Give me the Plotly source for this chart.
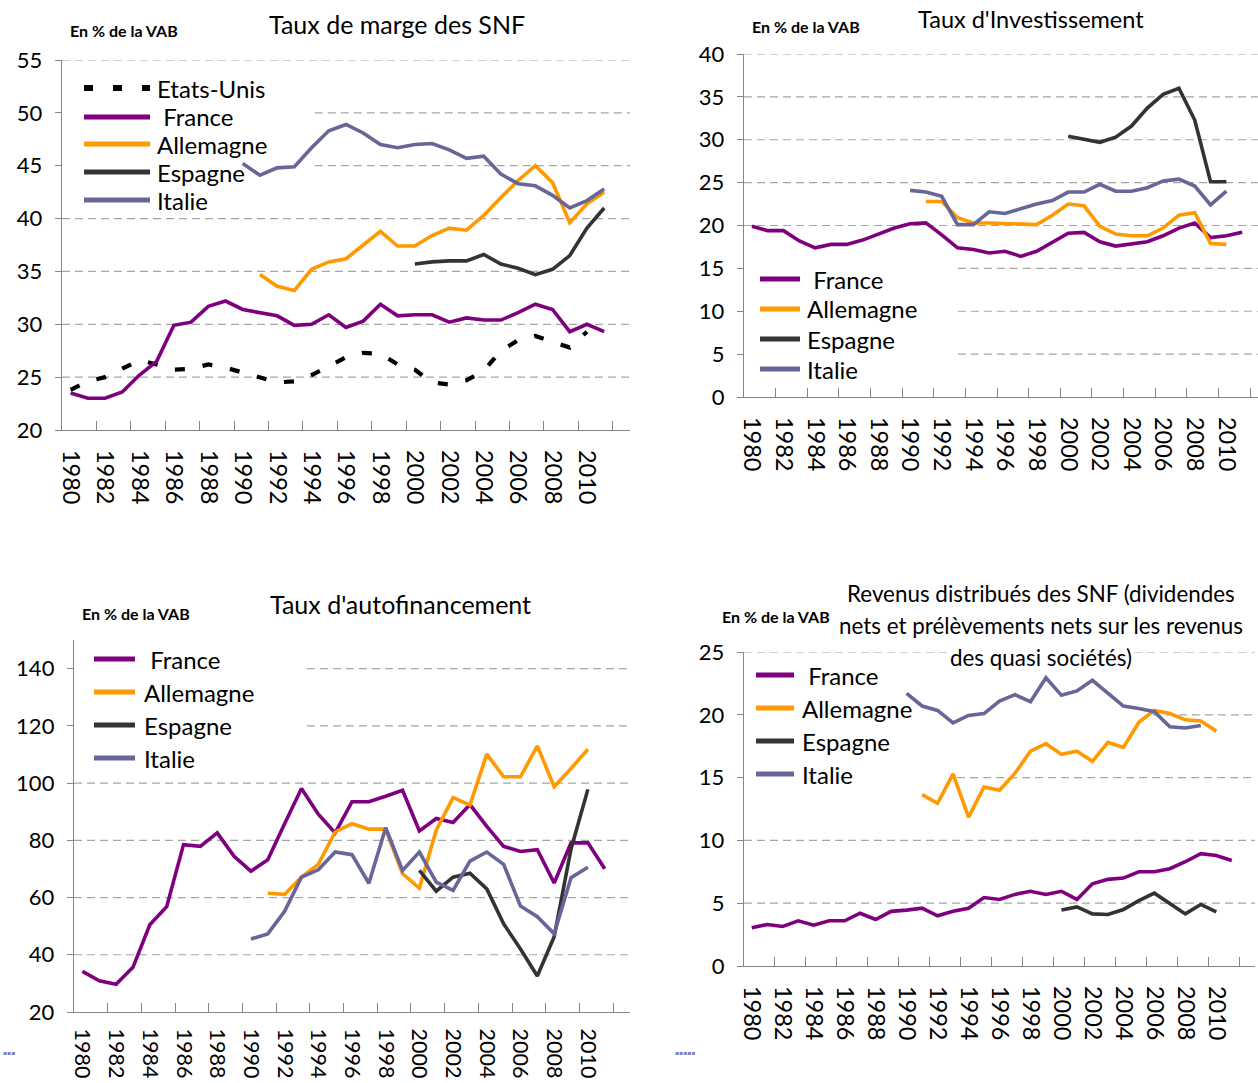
import plotly.graph_objects as go

W, H = 1258, 1083
FONT = "Lato"

# ---------------- data ----------------
# Panel 1 : Taux de marge des SNF
marge_us_years = list(range(1980, 2011))
marge_us = [23.8, 24.6, 25.0, 25.8, 26.6, 26.2, 25.7, 25.8, 26.2, 25.9, 25.4, 25.0, 24.5, 24.6,
            25.2, 26.0, 26.9, 27.3, 27.2, 26.2, 25.7, 24.5, 24.3, 24.7, 25.6, 27.5, 28.5, 28.9,
            28.3, 27.8, 29.3]
marge_fr_years = list(range(1980, 2012))
marge_fr = [23.5, 23.0, 23.0, 23.6, 25.2, 26.5, 29.9, 30.2, 31.7, 32.2, 31.4, 31.1, 30.8, 29.9,
            30.0, 30.9, 29.7, 30.3, 31.9, 30.8, 30.9, 30.9, 30.2, 30.6, 30.4, 30.4, 31.1, 31.9,
            31.4, 29.3, 30.0, 29.3]
marge_de_years = list(range(1991, 2012))
marge_de = [34.7, 33.6, 33.2, 35.2, 35.9, 36.2, 37.5, 38.8, 37.4, 37.4, 38.4, 39.1, 38.9, 40.3,
            42.0, 43.6, 45.0, 43.4, 39.6, 41.4, 42.5]
marge_es_years = list(range(2000, 2012))
marge_es = [35.7, 35.9, 36.0, 36.0, 36.6, 35.7, 35.3, 34.7, 35.2, 36.5, 39.1, 41.0]
marge_it_years = list(range(1990, 2012))
marge_it = [45.2, 44.1, 44.8, 44.9, 46.7, 48.3, 48.9, 48.1, 47.0, 46.7, 47.0, 47.1, 46.5, 45.7,
            45.9, 44.2, 43.3, 43.1, 42.2, 41.0, 41.7, 42.8]

# Panel 2 : Taux d'investissement
inv_fr_years = list(range(1980, 2012))
inv_fr = [19.9, 19.4, 19.4, 18.2, 17.4, 17.8, 17.8, 18.3, 19.0, 19.7, 20.2, 20.3, 18.9, 17.4,
          17.2, 16.8, 17.0, 16.4, 17.0, 18.1, 19.1, 19.2, 18.1, 17.6, 17.8, 18.1, 18.8, 19.7,
          20.3, 18.6, 18.8, 19.2]
inv_de_years = list(range(1991, 2011))
inv_de = [22.8, 22.8, 20.9, 20.3, 20.3, 20.2, 20.1, 20.1, 21.2, 22.5, 22.3, 19.9, 19.0, 18.8,
          18.8, 19.7, 21.2, 21.5, 17.9, 17.8]
inv_es_years = list(range(2000, 2011))
inv_es = [30.4, 30.0, 29.7, 30.3, 31.6, 33.7, 35.3, 36.0, 32.3, 25.1, 25.1]
inv_it_years = list(range(1990, 2011))
inv_it = [24.1, 23.9, 23.4, 20.1, 20.1, 21.6, 21.4, 22.0, 22.5, 22.9, 23.9, 23.9, 24.8, 24.0,
          24.0, 24.4, 25.2, 25.4, 24.6, 22.4, 24.0]

# Panel 3 : Taux d'autofinancement
auto_fr_years = list(range(1980, 2012))
auto_fr = [34.2, 30.9, 29.7, 35.6, 50.5, 56.8, 78.5, 77.9, 82.6, 74.4, 69.2, 73.2, 85.8, 98.1,
           89.1, 82.6, 93.5, 93.5, 95.4, 97.5, 83.3, 87.6, 86.2, 92.5, 84.9, 77.9, 76.1, 76.7,
           65.1, 79.1, 79.1, 70.1]
auto_de_years = list(range(1991, 2011))
auto_de = [61.5, 61.1, 67.1, 71.6, 82.9, 85.8, 83.9, 83.9, 68.3, 63.3, 83.5, 94.9, 92.3, 110.1,
           102.2, 102.2, 113.0, 98.7, 105.1, 111.8]
auto_es_years = list(range(2000, 2011))
auto_es = [69.5, 62.2, 67.1, 68.5, 63.0, 50.8, 42.0, 32.6, 46.3, 77.0, 97.8]
auto_it_years = list(range(1990, 2011))
auto_it = [45.5, 47.3, 55.2, 67.1, 69.7, 75.9, 75.0, 65.0, 84.4, 69.5, 75.9, 65.4, 62.5, 72.7,
           75.9, 71.6, 57.0, 53.3, 47.3, 66.9, 70.6]

# Panel 4 : Revenus distribués des SNF
rev_fr_years = list(range(1980, 2012))
rev_fr = [3.05, 3.3, 3.15, 3.6, 3.25, 3.6, 3.6, 4.2, 3.7, 4.35, 4.45, 4.6, 4.0, 4.35, 4.6, 5.45,
          5.3, 5.7, 5.95, 5.7, 5.95, 5.3, 6.55, 6.9, 7.0, 7.5, 7.5, 7.75, 8.3, 8.95, 8.8, 8.4]
rev_de_years = list(range(1991, 2011))
rev_de = [13.65, 12.95, 15.3, 11.85, 14.25, 14.0, 15.35, 17.1, 17.7, 16.85, 17.1, 16.3, 17.8,
          17.4, 19.4, 20.35, 20.1, 19.6, 19.5, 18.7]
rev_es_years = list(range(2000, 2011))
rev_es = [4.45, 4.7, 4.15, 4.1, 4.5, 5.2, 5.8, 5.0, 4.15, 4.9, 4.3]
rev_it_years = list(range(1990, 2010))
rev_it = [21.7, 20.7, 20.35, 19.35, 19.95, 20.1, 21.1, 21.6, 21.05, 22.95, 21.55, 21.9, 22.75,
          21.75, 20.7, 20.5, 20.25, 19.05, 18.95, 19.15]

tick_years = list(range(1980, 2011, 2))
tick_labels = [str(y) for y in tick_years]

titles = ["Taux de marge des SNF", "Taux d'Investissement", "Taux d'autofinancement",
          ["Revenus distribués des SNF (dividendes",
           "nets et prélèvements nets sur les revenus",
           "des quasi sociétés)"]]
unit_label = "En % de la VAB"

# ---------------- styles ----------------
COL = {"Etats-Unis": "#000000", "France": "#7F007F", "Allemagne": "#FF9900",
       "Espagne": "#333333", "Italie": "#666699"}
US_DASH = "10px,18px"
AXC = "#868686"
GRIDC = "#A6A6A6"


def px(x):
    return x / W


def py(y):
    return 1 - y / H


fig = go.Figure()

panels = [
    ("", [("Etats-Unis", marge_us_years, marge_us), ("France", marge_fr_years, marge_fr),
          ("Allemagne", marge_de_years, marge_de), ("Espagne", marge_es_years, marge_es),
          ("Italie", marge_it_years, marge_it)]),
    ("2", [("France", inv_fr_years, inv_fr), ("Allemagne", inv_de_years, inv_de),
           ("Espagne", inv_es_years, inv_es), ("Italie", inv_it_years, inv_it)]),
    ("3", [("France", auto_fr_years, auto_fr), ("Allemagne", auto_de_years, auto_de),
           ("Espagne", auto_es_years, auto_es), ("Italie", auto_it_years, auto_it)]),
    ("4", [("France", rev_fr_years, rev_fr), ("Allemagne", rev_de_years, rev_de),
           ("Espagne", rev_es_years, rev_es), ("Italie", rev_it_years, rev_it)]),
]

for suf, series in panels:
    for name, xs, ys in series:
        line = dict(color=COL[name], width=3.6)
        if name == "Etats-Unis":
            line = dict(color=COL[name], width=4.2, dash=US_DASH)
        fig.add_trace(go.Scatter(x=xs, y=ys, mode="lines", name=name, line=line,
                                 showlegend=False, xaxis="x" + suf, yaxis="y" + suf,
                                 hoverinfo="x+y+name"))

# panel geometry (pixels): x0, x1, ytop, ybottom, x-range, y-range, dtick, x-label size, standoff
geom = [
    ("", 62, 630, 60, 430, [1979.5, 2012.5], [20, 55], 5, 23.5, 14),
    ("2", 744, 1258, 54, 397, [1979.5, 2012.0], [0, 40], 5, 23.5, 14),
    ("3", 74, 630, 640, 1012, [1979.5, 2012.5], [20, 150], 20, 21.5, 11),
    ("4", 744, 1255, 652, 966, [1979.5, 2012.5], [0, 25], 5, 23.5, 14),
]

layout = dict(
    width=W, height=H, autosize=False, margin=dict(l=0, r=0, t=0, b=0, autoexpand=False),
    paper_bgcolor="white", plot_bgcolor="white",
    font=dict(family=FONT, color="black", size=22),
    showlegend=False,
)

for suf, x0, x1, yt, yb, xr, yr, dt, xfs, xso in geom:
    layout["xaxis" + suf] = dict(
        domain=[px(x0), px(x1)], range=xr, anchor="y" + suf,
        tickmode="array", tickvals=tick_years, ticktext=tick_labels, tickangle=90,
        ticks="", showgrid=False, zeroline=False,
        showline=True, linecolor=AXC, linewidth=1.4,
        tickfont=dict(size=xfs, color="black", family=FONT), ticklabelstandoff=xso,
        minor=dict(tickmode="array", tickvals=[1979.5 + 2 * k for k in range(1, 17)],
                   ticks="inside", ticklen=9, tickcolor=AXC, tickwidth=1.3, showgrid=False),
        fixedrange=True,
    )
    layout["yaxis" + suf] = dict(
        domain=[py(yb), py(yt)], range=yr, anchor="x" + suf,
        tickmode="linear", tick0=yr[0], dtick=dt,
        showgrid=False, zeroline=False, showline=True, linecolor=AXC, linewidth=1.4,
        ticks="outside", ticklen=6, tickcolor=AXC, tickwidth=1.3,
        tickfont=dict(size=22, color="black", family=FONT), ticklabelstandoff=8,
        fixedrange=True,
    )

fig.update_layout(**layout)

# dashed horizontal gridlines; some start right of the legend area (as in the original)
grid_specs = {
    "": ([25, 30, 35, 40, 45, 50, 55], {45: 0.445, 50: 0.445}),
    "2": ([5, 10, 15, 20, 25, 30, 35, 40], {5: 0.416, 10: 0.416, 15: 0.416}),
    "3": ([40, 60, 80, 100, 120, 140], {120: 0.419, 140: 0.419}),
    "4": ([5, 10, 15, 20, 25], {15: 0.417, 20: 0.80}),
}
for suf, (vals, starts) in grid_specs.items():
    for v in vals:
        fig.add_shape(type="line", xref="x" + suf + " domain", yref="y" + suf,
                      x0=starts.get(v, 0.0), x1=1.0, y0=v, y1=v, layer="below",
                      line=dict(color=GRIDC, width=1.2, dash="8px,5px"))

# legends (swatch + label), positions in pixels
legends = [
    (84, 150, 155, [88, 117, 144, 172, 200], ["Etats-Unis", "France", "Allemagne", "Espagne", "Italie"]),
    (760, 800, 805, [279, 309, 339, 369], ["France", "Allemagne", "Espagne", "Italie"]),
    (94, 135, 142, [659, 692, 725, 758], ["France", "Allemagne", "Espagne", "Italie"]),
    (756, 794, 800, [675, 708, 741, 774], ["France", "Allemagne", "Espagne", "Italie"]),
]
for lx0, lx1, tx, ys, names in legends:
    for yy, name in zip(ys, names):
        ln = dict(color=COL[name], width=5)
        if name == "Etats-Unis":
            ln = dict(color=COL[name], width=6, dash="9px,20px")
        fig.add_shape(type="line", xref="paper", yref="paper",
                      x0=px(lx0), x1=px(lx1), y0=py(yy), y1=py(yy), line=ln)
        label = name if name != "France" else "\u00a0France"
        fig.add_annotation(x=px(tx), y=py(yy), xref="paper", yref="paper",
                           text=label, showarrow=False, xanchor="left", yanchor="middle",
                           font=dict(size=24, color="black", family=FONT))

# titles
title_pos = [(397, 24, 25), (1031, 19, 23.5), (400, 604, 25)]
for (tx, ty, fs), t in zip(title_pos, titles[:3]):
    fig.add_annotation(x=px(tx), y=py(ty), xref="paper", yref="paper", text=t,
                       showarrow=False, xanchor="center", yanchor="middle",
                       font=dict(size=fs, color="black", family=FONT))
for i, (t, ty) in enumerate(zip(titles[3], [593, 625, 657])):
    fig.add_annotation(x=px(1041), y=py(ty), xref="paper", yref="paper", text=t,
                       showarrow=False, xanchor="center", yanchor="middle",
                       bgcolor="white" if i == 2 else "rgba(0,0,0,0)", borderpad=0,
                       font=dict(size=22.4, color="black", family=FONT))

# unit labels
for ux, uy in [(68, 31), (750, 27), (80, 613), (720, 616)]:
    fig.add_annotation(x=px(ux), y=py(uy), xref="paper", yref="paper",
                       text="<b>" + unit_label + "</b>", showarrow=False,
                       xanchor="left", yanchor="middle",
                       font=dict(size=16, color="black", family=FONT))

# small artefacts in the corners of the bottom panels
for ax_, n in [(1, 3), (673, 5)]:
    fig.add_annotation(x=px(ax_), y=py(1052), xref="paper", yref="paper",
                       text="\u25aa" * n, showarrow=False, xanchor="left", yanchor="middle",
                       font=dict(size=6, color="#8080C0", family="DejaVu Sans"))

fig.write_html("out.html",
               config={"responsive": False, "displayModeBar": False},
               post_script="document.body.style.margin='0';document.body.style.overflow='hidden';")
